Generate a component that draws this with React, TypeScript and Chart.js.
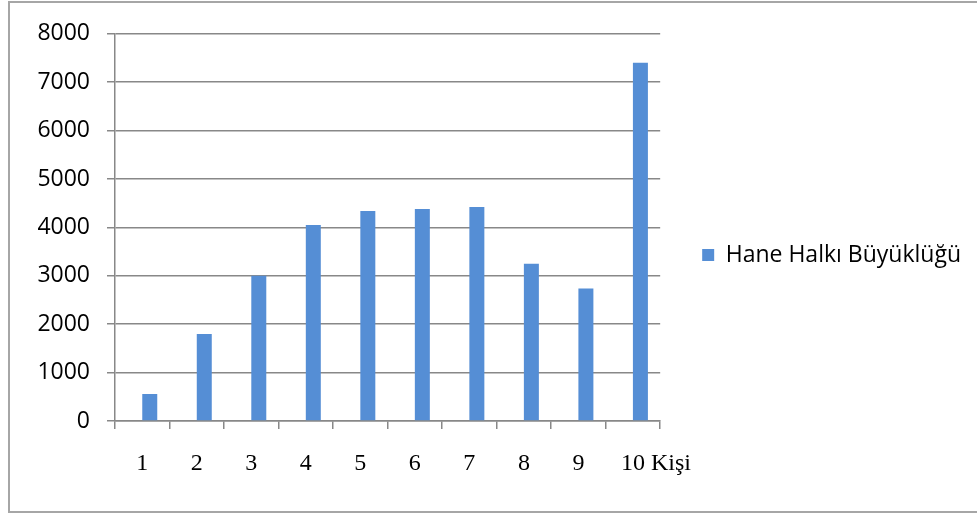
import React, { useEffect, useRef } from "react";
import { Chart, registerables } from "chart.js";

Chart.register(...registerables);

const categories = ["1", "2", "3", "4", "5", "6", "7", "8", "9", "10"];
const householdSize = [560, 1800, 3000, 4050, 4340, 4380, 4420, 3250, 2740, 7400];
const spacer = [null, null, null, null, null, null, null, null, null, null];
const seriesLabel = "Hane Halkı Büyüklüğü";
const unitLabel = "Kişi";
const yTicks = [0, 1000, 2000, 3000, 4000, 5000, 6000, 7000, 8000];

const BLUE = "#558ed5";
const GRID = "#888888";

const unitPlugin = {
  id: "unitLabel",
  afterDraw(chart: any) {
    const xs = chart.scales.x;
    const items = xs.getLabelItems();
    if (!items || !items.length) return;
    const last = items[items.length - 1];
    const ctx = chart.ctx;
    ctx.save();
    ctx.font = last.font.string;
    const [tx, ty] = last.options.translation;
    const w = ctx.measureText(String(last.label)).width;
    ctx.textAlign = "left";
    ctx.textBaseline = last.options.textBaseline;
    ctx.fillStyle = "#000";
    ctx.fillText(unitLabel, tx + w / 2 + 6, ty + last.textOffset);
    ctx.restore();
  },
};

export default function App() {
  const ref = useRef<HTMLCanvasElement>(null);

  useEffect(() => {
    document.documentElement.style.overflow = "hidden";
    document.body.style.overflow = "hidden";
    const chart = new Chart(ref.current!, {
      type: "bar",
      data: {
        labels: categories,
        datasets: [
          {
            label: "",
            data: spacer as any,
            backgroundColor: "rgba(0,0,0,0)",
          },
          {
            label: seriesLabel,
            data: householdSize,
            backgroundColor: BLUE,
            borderWidth: 0,
          },
        ],
      },
      options: {
        animation: false,
        responsive: false,
        maintainAspectRatio: false,
        layout: { padding: { top: 29, bottom: 33, right: 6, left: 0 } },
        datasets: {
          bar: { categoryPercentage: 0.55, barPercentage: 1.0 },
        },
        plugins: {
          tooltip: { enabled: false },
          legend: {
            position: "right",
            maxWidth: 400,
            labels: {
              filter: (item: any) => item.datasetIndex === 1,
              boxWidth: 12,
              boxHeight: 12,
              padding: 10,
              color: "#000",
              font: { family: "'Open Sans'", size: 23 },
            },
          },
        },
        scales: {
          x: {
            type: "category",
            offset: true,
            grid: {
              display: true,
              drawOnChartArea: false,
              drawTicks: true,
              tickLength: 8,
              offset: true,
              color: GRID,
              lineWidth: 1.5,
            },
            border: { display: true, color: GRID, width: 1.5 },
            ticks: {
              color: "#000",
              padding: 20,
              maxRotation: 0,
              font: { family: "'Liberation Serif'", size: 24 },
            },
            afterFit: (s: any) => {
              s.height = 57;
            },
          },
          y: {
            min: 0,
            max: 8000,
            afterBuildTicks: (s: any) => {
              s.ticks = yTicks.map((v) => ({ value: v }));
            },
            grid: {
              color: GRID,
              lineWidth: 1.5,
              tickLength: 8,
            },
            border: { display: true, color: GRID, width: 1.5 },
            ticks: {
              color: "#000",
              padding: 17,
              font: { family: "'Open Sans'", size: 23 },
              callback: (v: any) => String(v),
            },
            afterFit: (s: any) => {
              s.width = 105;
            },
          },
          gap: {
            position: "right",
            display: true,
            grid: { display: false, drawTicks: false },
            border: { display: false },
            ticks: { display: false },
            afterFit: (s: any) => {
              s.width = 32;
            },
          },
        },
      },
      plugins: [unitPlugin],
    });
    return () => chart.destroy();
  }, []);

  return (
    <div
      style={{
        position: "absolute",
        left: 8,
        top: 1,
        width: 967,
        height: 508,
        borderLeft: "2px solid #a6a6a6",
        borderTop: "2px solid #a6a6a6",
        borderBottom: "2px solid #a6a6a6",
        background: "#fff",
      }}
    >
      <canvas ref={ref} width={967} height={508} style={{ display: "block" }} />
    </div>
  );
}
